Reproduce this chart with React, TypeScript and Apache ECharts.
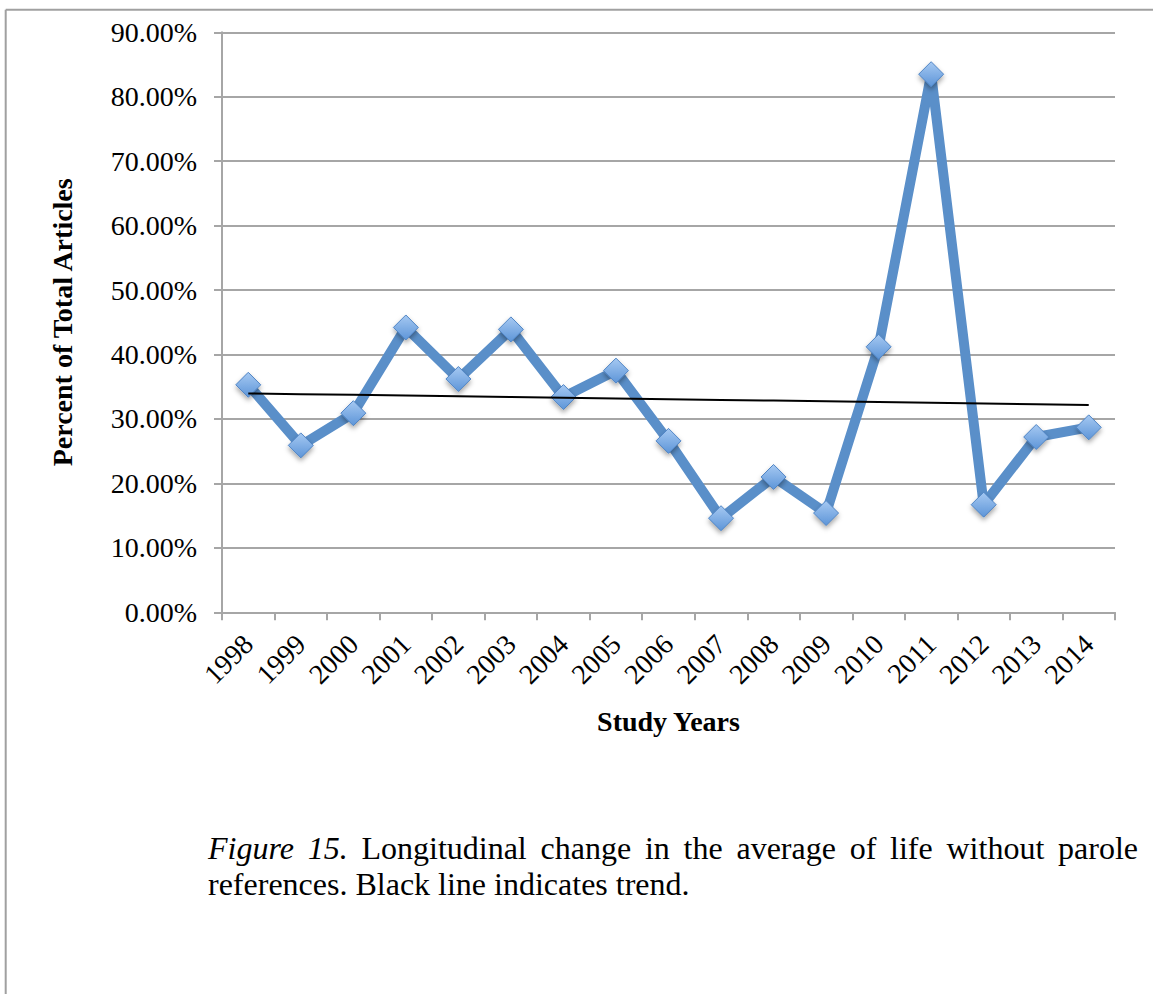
import { useEffect, useRef } from "react";
import * as echarts from "echarts";

// ---- Data ----
const years = [
  "1998", "1999", "2000", "2001", "2002", "2003", "2004", "2005", "2006",
  "2007", "2008", "2009", "2010", "2011", "2012", "2013", "2014",
];
const percentOfArticles = [
  35.3, 25.9, 30.9, 44.2, 36.2, 43.9, 33.4, 37.5, 26.6,
  14.6, 21.0, 15.4, 41.2, 83.5, 16.7, 27.2, 28.7,
];
const yAxisMin = 0;
const yAxisMax = 90;
const yAxisStep = 10;

const xAxisTitle = "Study Years";
const yAxisTitle = "Percent of Total Articles";
const captionLeadWords = ["Figure", "15."];
const captionLine1Words = ["Longitudinal", "change", "in", "the", "average", "of", "life", "without", "parole"];
const captionLine2 = "references. Black line indicates trend.";

// Least-squares linear trend (what the black "trend" line shows)
function linearTrend(values: number[]): number[] {
  const n = values.length;
  const xs = values.map((_, i) => i + 1);
  const mx = xs.reduce((a, b) => a + b, 0) / n;
  const my = values.reduce((a, b) => a + b, 0) / n;
  let num = 0;
  let den = 0;
  for (let i = 0; i < n; i++) {
    num += (xs[i] - mx) * (values[i] - my);
    den += (xs[i] - mx) * (xs[i] - mx);
  }
  const slope = num / den;
  const intercept = my - slope * mx;
  return xs.map((x) => +(intercept + slope * x).toFixed(3));
}

const FONT = "'Liberation Serif', 'Times New Roman', serif";
const GRID_GRAY = "#a6a6a6";
const CAP_SIZE = 32;
const CAP_LEFT = 208;
const CAP_RIGHT = 1138;
const CAP_TOP = 830;
const CAP_LINE = 36;

function measure(text: string, italic: boolean): number {
  const c = document.createElement("canvas").getContext("2d");
  if (!c) return text.length * CAP_SIZE * 0.45;
  c.font = (italic ? "italic " : "") + CAP_SIZE + "px 'Liberation Serif'";
  return c.measureText(text).width;
}

function buildCaption(): any[] {
  const words = [
    ...captionLeadWords.map((w) => ({ w, italic: true })),
    ...captionLine1Words.map((w) => ({ w, italic: false })),
  ];
  const widths = words.map((o) => measure(o.w, o.italic));
  const total = widths.reduce((a, b) => a + b, 0);
  const gap = (CAP_RIGHT - CAP_LEFT - total) / (words.length - 1);
  const els: any[] = [];
  let x = CAP_LEFT;
  words.forEach((o, i) => {
    els.push({
      type: "text",
      x,
      y: CAP_TOP,
      style: {
        text: o.w,
        fontFamily: FONT,
        fontSize: CAP_SIZE,
        fontStyle: o.italic ? "italic" : "normal",
        fill: "#000",
        lineHeight: CAP_LINE,
        verticalAlign: "top",
      },
    });
    x += widths[i] + gap;
  });
  els.push({
    type: "text",
    x: CAP_LEFT,
    y: CAP_TOP + CAP_LINE,
    style: {
      text: captionLine2,
      fontFamily: FONT,
      fontSize: CAP_SIZE,
      fill: "#000",
      lineHeight: CAP_LINE,
      verticalAlign: "top",
    },
  });
  return els;
}

export default function App() {
  const ref = useRef<HTMLDivElement>(null);

  useEffect(() => {
    if (!ref.current) return;
    const chart = echarts.init(ref.current, null, { renderer: "svg" });
    const trend = linearTrend(percentOfArticles);

    chart.setOption({
      animation: false,
      backgroundColor: "#ffffff",
      grid: { left: 222, right: 38, top: 32.3, bottom: 381.7, containLabel: false },
      xAxis: {
        type: "category",
        data: years,
        boundaryGap: true,
        name: xAxisTitle,
        nameLocation: "middle",
        nameGap: 95,
        nameTextStyle: { fontFamily: FONT, fontSize: 28, fontWeight: "bold", color: "#000" },
        axisLine: { lineStyle: { color: GRID_GRAY, width: 2 } },
        axisTick: { show: true, length: 8, alignWithLabel: false, lineStyle: { color: GRID_GRAY, width: 2 } },
        axisLabel: {
          interval: 0,
          rotate: 45,
          margin: 27,
          fontFamily: FONT,
          fontSize: 28,
          color: "#000",
        },
        splitLine: { show: false },
      },
      yAxis: {
        type: "value",
        min: yAxisMin,
        max: yAxisMax,
        interval: yAxisStep,
        name: yAxisTitle,
        nameLocation: "middle",
        nameGap: 146,
        nameTextStyle: { fontFamily: FONT, fontSize: 28, fontWeight: "bold", color: "#000" },
        axisLine: { show: true, lineStyle: { color: GRID_GRAY, width: 2 } },
        axisTick: { show: true, length: 8, lineStyle: { color: GRID_GRAY, width: 2 } },
        axisLabel: {
          margin: 25,
          fontFamily: FONT,
          fontSize: 28,
          color: "#000",
          formatter: (v: number) => v.toFixed(2) + "%",
        },
        splitLine: { show: true, lineStyle: { color: GRID_GRAY, width: 2 } },
      },
      series: [
        {
          type: "line",
          data: percentOfArticles,
          z: 2,
          lineStyle: { color: "#5a8fc9", width: 10 },
          symbol: "diamond",
          symbolSize: 25,
          itemStyle: {
            color: new echarts.graphic.LinearGradient(0, 0, 0, 1, [
              { offset: 0, color: "#a6c9f2" },
              { offset: 1, color: "#5d95d8" },
            ]),
            borderColor: "#4f84c4",
            borderWidth: 1,
            shadowBlur: 5,
            shadowColor: "rgba(0,0,0,0.35)",
            shadowOffsetY: 3,
          },
          emphasis: { disabled: true },
        },
        {
          type: "line",
          data: trend,
          z: 5,
          showSymbol: false,
          symbol: "none",
          lineStyle: { color: "#000000", width: 2 },
          emphasis: { disabled: true },
        },
      ],
      graphic: [
        {
          type: "line",
          shape: { x1: 5.7, y1: 9.7, x2: 1153, y2: 9.7 },
          style: { stroke: "#a0a0a0", lineWidth: 2 },
        },
        {
          type: "line",
          shape: { x1: 5.7, y1: 9.7, x2: 5.7, y2: 994 },
          style: { stroke: "#a0a0a0", lineWidth: 2 },
        },
        ...buildCaption(),
      ],
    });

    return () => chart.dispose();
  }, []);

  return (
    <div
      ref={ref}
      style={{ position: "absolute", left: 0, top: 0, width: 1153, height: 994 }}
    />
  );
}
